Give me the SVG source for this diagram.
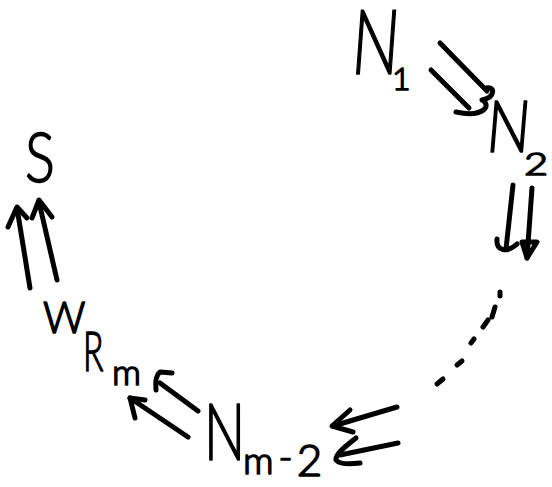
<svg xmlns="http://www.w3.org/2000/svg" width="552" height="487" viewBox="0 0 552 487">
<style>
.lbl{font-family:"Lato","Open Sans","Liberation Sans",sans-serif;font-weight:300;fill:#000;stroke:#000;stroke-width:1.6;stroke-linejoin:round}
.c path{fill:none;stroke:#000;stroke-width:5;stroke-linecap:round;stroke-linejoin:round}
</style>
<rect width="552" height="487" fill="#fff"/>
<g id="node-N1">
<text class="lbl" font-size="90" transform="translate(350,74) scale(0.7,1) skewX(-6)">N</text>
<text class="lbl" font-size="32" x="392" y="90">1</text>
</g>
<g id="node-N2">
<text class="lbl" font-size="72" transform="translate(485,152) scale(0.8,1) skewX(-6)">N</text>
<text class="lbl" font-size="32" transform="translate(524,175) scale(1.3,1)">2</text>
</g>
<g id="node-Nm2">
<text class="lbl" font-size="78" transform="translate(204,460) scale(0.7,1)">N</text>
<text class="lbl" x="243" y="474"><tspan font-size="38">m</tspan><tspan font-size="38" dx="5" dy="-4">-</tspan><tspan font-size="44" dx="4" dy="6">2</tspan></text>
</g>
<g id="node-W">
<text class="lbl" font-size="44" transform="translate(43,333) scale(0.95,1)">W</text>
<text class="lbl" font-size="56" transform="translate(83,371) scale(0.6,1)">R</text>
<text class="lbl" font-size="36" x="112" y="385">m</text>
</g>
<g id="node-S">
<text class="lbl" font-size="68" transform="translate(25,182) scale(0.82,1)">S</text>
</g>
<g id="connectors" class="c">
<path d="M440,43 L487,91"/>
<path d="M431,70 L469,108"/>
<path d="M486,88 C495,86 496,97 482,100 C492,105 484,118 456,112"/>
<path d="M513,185 L506,249"/>
<path d="M497,239 C496,250 506,254 517,244"/>
<path d="M532,188 L527,258"/>
<path d="M522,242 L527,258 L537,242 Z"/>
<path d="M500,292 L500,296 M495,307 L492,317 M488,320 L483,327 M474,339 L471,343 M462,361 L457,365 M443,379 L437,384"/>
<path d="M397,407 L333,426"/>
<path d="M350,410 L332,426 L353,432"/>
<path d="M398,443 L340,455"/>
<path d="M356,438 C346,446 335,454 336,460 C340,465 352,464 360,463"/>
<path d="M198,411 L160,383"/>
<path d="M172,373 L160,372 C156,375 155,380 156,390"/>
<path d="M188,437 L130,398"/>
<path d="M145,400 L130,398 L135,418"/>
<path d="M30,288 L17,208"/>
<path d="M8,227 L17,207 L27,218"/>
<path d="M57,280 L39,202"/>
<path d="M32,218 L39,200 L52,217"/>
</g>
</svg>
